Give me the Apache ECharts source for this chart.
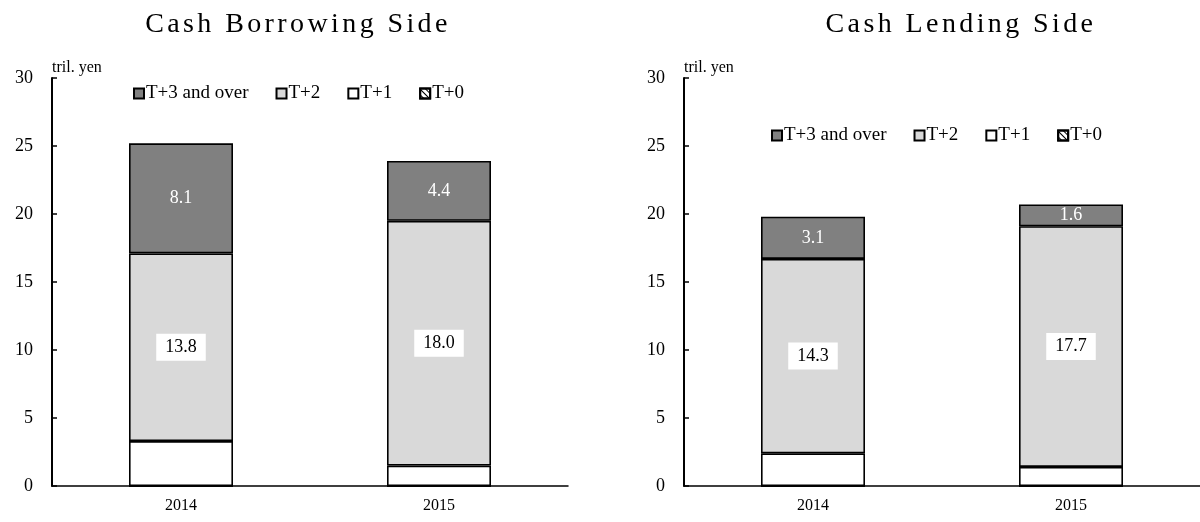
<!DOCTYPE html>
<html>
<head>
<meta charset="utf-8">
<script src="https://cdn.jsdelivr.net/npm/echarts@6/dist/echarts.min.js"></script>
<style>
  html, body { margin: 0; padding: 0; background: #fff; }
  #wrap { position: relative; width: 1200px; height: 522px; }
  #main { width: 1200px; height: 522px; }
  .ttl {
    position: absolute; top: 9px; width: 400px; text-align: center;
    font-family: "Liberation Serif", serif; font-size: 28px; line-height: 28px;
    letter-spacing: 3.4px; color: #000;
  }
</style>
</head>
<body>
<div id="wrap">
  <div id="main"></div>
  <div class="ttl" style="left:98px">Cash Borrowing Side</div>
  <div class="ttl" style="left:761px">Cash Lending Side</div>
</div>
<script>
// data (tril. yen)
var years = ['2014', '2015'];
var seriesNames = ['T+3 and over', 'T+2', 'T+1', 'T+0'];
var yTicks = [0, 5, 10, 15, 20, 25, 30];

// cash borrowing side
var borrowT3 = [8.1, 4.4];
var borrowT2 = [13.8, 18.0];
var borrowT1 = [3.3, 1.5];
var borrowT0 = [0, 0];

// cash lending side
var lendT3 = [3.1, 1.6];
var lendT2 = [14.3, 17.7];
var lendT1 = [2.4, 1.4];
var lendT0 = [0, 0];

var font = 'Liberation Serif';
var chart = echarts.init(document.getElementById('main'), null, { renderer: 'canvas' });

function xAxis(idx) {
  return {
    gridIndex: idx,
    type: 'category',
    data: years,
    axisLine: { lineStyle: { color: '#000', width: 1.5 } },
    axisTick: { inside: true, length: 5, lineStyle: { color: '#000', width: 1.5 } },
    axisLabel: { color: '#000', fontFamily: font, fontSize: 16, margin: 12 }
  };
}

function yAxis(idx) {
  return {
    gridIndex: idx,
    type: 'value',
    min: yTicks[0],
    max: yTicks[yTicks.length - 1],
    interval: 5,
    name: 'tril. yen',
    nameLocation: 'end',
    nameGap: 2,
    nameTextStyle: { color: '#000', fontFamily: font, fontSize: 16, align: 'left', verticalAlign: 'bottom' },
    splitLine: { show: false },
    axisLine: { show: true, lineStyle: { color: '#000', width: 2 } },
    axisTick: { show: true, inside: true, length: 5, lineStyle: { color: '#000', width: 1.5 } },
    axisLabel: { color: '#000', fontFamily: font, fontSize: 18, margin: 19 }
  };
}

var fills = { 'T+3 and over': '#808080', 'T+2': '#d9d9d9', 'T+1': '#ffffff', 'T+0': '#ffffff' };

function bar(name, data, idx) {
  var s = {
    name: name,
    type: 'bar',
    xAxisIndex: idx,
    yAxisIndex: idx,
    stack: 'panel' + idx,
    data: data,
    barWidth: 104,
    itemStyle: { color: fills[name], borderColor: '#000', borderWidth: 1.6 },
    label: { show: false }
  };
  if (name === 'T+0') {
    s.itemStyle.decal = {
      symbol: 'rect', color: '#000', symbolSize: 1,
      dashArrayX: [1, 0], dashArrayY: [1, 3], rotation: Math.PI / 4
    };
  }
  if (name === 'T+2') {
    s.label = {
      show: true, position: 'inside', color: '#000', fontFamily: font, fontSize: 18,
      backgroundColor: '#fff', padding: [5, 9, 4, 9],
      formatter: function (p) { return p.value.toFixed(1); }
    };
  }
  if (name === 'T+3 and over') {
    s.label = {
      show: true, position: 'inside', color: '#fff', fontFamily: font, fontSize: 18,
      formatter: function (p) { return p.value.toFixed(1); }
    };
  }
  return s;
}

function legend(left, top) {
  return {
    left: left, top: top, padding: 0,
    data: seriesNames,
    icon: 'rect',
    itemWidth: 10, itemHeight: 10, itemGap: 27,
    textStyle: { color: '#000', fontFamily: font, fontSize: 19, padding: [0, 0, 0, -3] },
    selectedMode: false
  };
}

var option = {
  animation: false,
  legend: [legend(133, 84), legend(771, 126)],
  grid: [
    { left: 52, top: 78, width: 516, height: 408 },
    { left: 684, top: 78, width: 516, height: 408 }
  ],
  xAxis: [xAxis(0), xAxis(1)],
  yAxis: [yAxis(0), yAxis(1)],
  series: [
    bar('T+0', borrowT0, 0),
    bar('T+1', borrowT1, 0),
    bar('T+2', borrowT2, 0),
    bar('T+3 and over', borrowT3, 0),
    bar('T+0', lendT0, 1),
    bar('T+1', lendT1, 1),
    bar('T+2', lendT2, 1),
    bar('T+3 and over', lendT3, 1)
  ]
};

chart.setOption(option);
</script>
</body>
</html>
